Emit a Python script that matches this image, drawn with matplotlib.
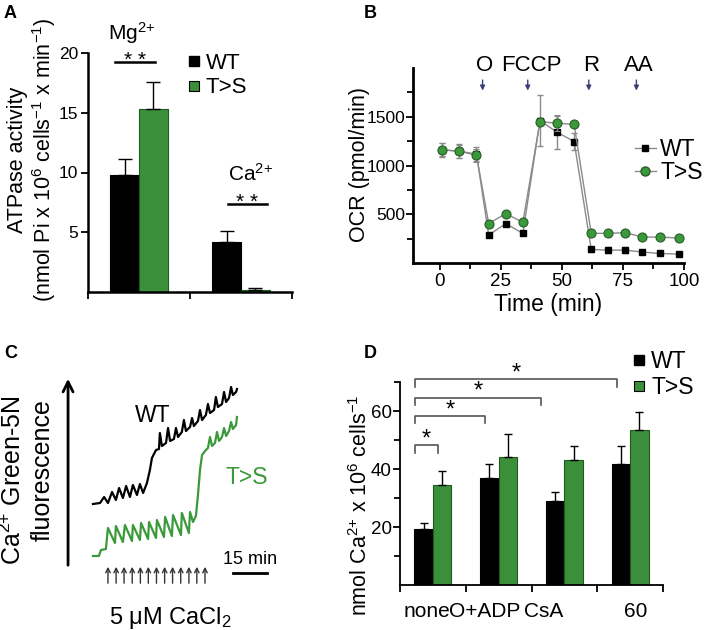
import matplotlib
matplotlib.use('Agg')
import matplotlib.pyplot as plt
from matplotlib.lines import Line2D
import numpy as np

plt.rcParams['font.family'] = ['Liberation Sans', 'DejaVu Sans']
plt.rcParams['mathtext.fontset'] = 'custom'
plt.rcParams['mathtext.rm'] = 'Liberation Sans'
plt.rcParams['mathtext.it'] = 'Liberation Sans:italic'
plt.rcParams['mathtext.bf'] = 'Liberation Sans:bold'

GREEN = '#3b8f3b'
GREEN_EDGE = '#1f5a1f'
TRACE_GREEN = '#3a9a3a'

# ---- panel A data: ATPase activity
atp_groups = ['Mg$^{2{+}}$', 'Ca$^{2{+}}$']
atp_wt = [9.8, 4.2]
atp_wt_err = [1.3, 0.9]
atp_ts = [15.3, 0.2]
atp_ts_err = [2.3, 0.1]

# ---- panel B data: OCR
ocr_time = [1, 8, 15, 20, 27, 34, 41, 48, 55, 62, 69, 76, 83, 90, 98]
ocr_wt = [1160, 1146, 1118, 287, 404, 304, 1460, 1342, 1246, 139, 132, 132, 112, 98, 91]
ocr_wt_err = [70, 70, 70, 20, 20, 20, 265, 170, 90, 25, 30, 30, 20, 15, 15]
ocr_ts = [1163, 1146, 1105, 404, 507, 417, 1448, 1435, 1421, 304, 304, 311, 266, 266, 256]
ocr_ts_err = [70, 65, 65, 20, 20, 20, 30, 80, 30, 20, 20, 20, 20, 20, 20]
inj_labels = ['O', 'FCCP', 'R', 'AA']
inj_time = [17.5, 36, 61, 80.5]

# ---- panel C data: Ca2+ Green-5N traces (time in min, fluorescence a.u.)
wt_t = [0.0, 3.1, 4.9, 6.6, 8.4, 10.1, 11.5, 13.2, 14.6, 16.3, 17.6, 19.4, 20.7, 22.1,
        23.8, 25.1, 26.0, 27.8, 29.1, 29.5, 30.4, 32.2, 33.1, 34.0, 35.7, 36.6, 37.5,
        39.2, 40.1, 41.0, 42.8, 43.7, 44.5, 46.3, 47.2, 48.1, 49.8, 50.7, 51.6, 53.4,
        54.2, 55.1, 56.9, 57.8, 58.7, 60.0, 60.9, 61.7, 63.1, 63.5]
wt_f = [9.6, 9.7, 10.3, 9.7, 10.8, 10.0, 11.2, 10.2, 11.4, 10.3, 11.5, 10.5, 11.6, 10.7,
        11.7, 13.0, 14.2, 15.0, 15.1, 16.7, 15.4, 15.7, 17.2, 15.9, 16.1, 17.2, 16.3,
        16.8, 18.0, 16.9, 17.3, 18.2, 17.4, 17.9, 19.0, 18.0, 18.5, 19.6, 18.7, 19.0,
        20.3, 19.3, 19.6, 20.8, 19.8, 20.2, 21.3, 20.5, 20.8, 21.1]
ts_t = [0.0, 2.6, 3.5, 5.7, 6.6, 9.7, 10.1, 13.2, 14.1, 17.2, 17.6, 20.7, 21.2, 24.3,
        24.7, 27.8, 28.2, 31.3, 31.8, 34.8, 35.3, 38.8, 39.2, 42.3, 42.8, 44.1, 45.4,
        46.3, 47.2, 48.1, 49.4, 50.7, 51.6, 52.5, 53.8, 54.7, 55.6, 56.9, 57.8, 58.7,
        60.0, 60.9, 61.7, 63.1, 63.5]
ts_f = [4.4, 4.4, 5.0, 5.1, 7.2, 5.7, 7.4, 5.8, 7.5, 5.9, 7.5, 6.0, 7.7, 6.1,
        7.8, 6.2, 8.0, 6.3, 8.3, 6.4, 8.5, 6.5, 8.7, 6.7, 8.8, 7.8, 8.4,
        10.5, 13.0, 14.5, 14.9, 15.2, 16.3, 15.4, 15.7, 16.8, 15.9, 16.3, 17.2, 16.4,
        16.9, 17.8, 17.1, 17.5, 18.3]
cacl2_additions = [6.6, 10.2, 13.7, 17.3, 20.9, 24.4, 28.0, 31.6, 35.1, 38.7, 42.3, 45.8, 49.4]

# ---- panel D data: Ca2+ retention capacity
crc_groups = ['none', 'O+ADP', 'CsA', '60']
crc_label_pos = [0.41, 1.29, 2.18, 3.59]
crc_wt = [19.2, 36.9, 29.0, 41.6]
crc_wt_err = [2.1, 4.9, 2.9, 6.2]
crc_ts = [34.5, 44.1, 43.2, 53.6]
crc_ts_err = [4.7, 7.9, 4.7, 5.9]
brackets = [(0.23, 0.58, 48.2), (0.23, 1.30, 58.3), (0.23, 2.15, 64.6), (0.23, 3.30, 71.0)]

W, H = 709, 630
fig = plt.figure(figsize=(W / 100, H / 100), dpi=100)


def px_axes(x0, y0, x1, y1):
    return fig.add_axes([x0 / W, 1 - y1 / H, (x1 - x0) / W, (y1 - y0) / H])


def ftext(x, y, s, **kw):
    fig.text(x / W, 1 - y / H, s, **kw)


def style_axes(ax, lw=1.8):
    for side in ['top', 'right']:
        ax.spines[side].set_visible(False)
    for side in ['left', 'bottom']:
        ax.spines[side].set_linewidth(lw)
    ax.tick_params(which='both', direction='out', width=1.3, pad=2)
    ax.tick_params(which='major', length=5)
    ax.tick_params(which='minor', length=4)


# panel labels
for lab, x, y in [('A', 4, 14), ('B', 364, 14), ('C', 4, 354), ('D', 364, 354)]:
    ftext(x, y, lab, fontsize=13, fontweight='bold', va='center', ha='left')

# ================= A =================
axA = px_axes(88, 53, 292, 292)
style_axes(axA)
xa = np.arange(len(atp_groups)) + 0.5
bw = 0.284
axA.bar(xa - bw / 2, atp_wt, bw, color='black', edgecolor='black', lw=0.8,
        yerr=[np.zeros(2), atp_wt_err], error_kw=dict(ecolor='black', elinewidth=1, capsize=5, capthick=1))
axA.bar(xa + bw / 2, atp_ts, bw, color=GREEN, edgecolor=GREEN_EDGE, lw=0.8,
        yerr=[np.zeros(2), atp_ts_err], error_kw=dict(ecolor='black', elinewidth=1, capsize=5, capthick=1))
axA.set_xlim(0, 2)
axA.set_ylim(0, 20)
axA.set_xticks([0, 1, 2])
axA.set_xticklabels([])
axA.set_yticks([5, 10, 15, 20])
axA.tick_params(axis='y', labelsize=12.5)
# significance
axA.text(0.43, 20.6, atp_groups[0], ha='center', va='bottom', fontsize=15)
axA.plot([0.265, 0.657], [19.25, 19.25], color='black', lw=1.8, clip_on=False)
axA.text(0.46, 18.95, '* *', ha='center', va='baseline', fontsize=15, clip_on=False)
axA.text(1.59, 9.0, atp_groups[1], ha='center', va='bottom', fontsize=15)
axA.plot([1.37, 1.75], [7.36, 7.36], color='black', lw=1.8)
axA.text(1.56, 7.06, '* *', ha='center', va='baseline', fontsize=15)
ftext(18, 160, 'ATPase activity', rotation=90, ha='center', va='center', fontsize=15.5)
ftext(44, 160, '(nmol Pi x 10$^6$ cells$^{-1}$ x min$^{-1}$)', rotation=90, ha='center',
      va='center', fontsize=15.5)
hA = [Line2D([], [], ls='', marker='s', ms=7, mfc='black', mec='black'),
      Line2D([], [], ls='', marker='s', ms=7, mfc=GREEN, mec='black', mew=0.8)]
fig.legend(hA, ['WT', 'T>S'], loc='upper left', bbox_to_anchor=(188 / W, 1 - 53 / H),
           frameon=False, fontsize=16, handlelength=0.5, handletextpad=0.3,
           labelspacing=0.15, borderpad=0, borderaxespad=0)

# ================= B =================
axB = px_axes(413, 68, 684, 263)
style_axes(axB, lw=2)
axB.errorbar(ocr_time, ocr_wt, yerr=ocr_wt_err, color='#8a8a8a', lw=1, ecolor='#8a8a8a',
             elinewidth=1, capsize=2.5, marker='s', ms=4.5, mfc='black', mec='black', zorder=3,
             label='WT')
axB.errorbar(ocr_time, ocr_ts, yerr=ocr_ts_err, color='#8a8a8a', lw=1, ecolor='#8a8a8a',
             elinewidth=1, capsize=2.5, marker='o', ms=6.5, mfc=TRACE_GREEN, mec='#2a5a2a',
             mew=0.8, zorder=4, label='T>S')
axB.set_xlim(-11, 100)
axB.set_ylim(0, 2000)
axB.set_xticks([0, 25, 50, 75, 100])
axB.set_xticks(np.arange(0, 101, 12.5), minor=True)
axB.set_yticks([500, 1000, 1500])
axB.set_yticks([250, 750, 1250, 1750], minor=True)
axB.tick_params(axis='x', labelsize=13.5)
axB.tick_params(axis='y', labelsize=12.5, pad=0.5)
axB.set_xlabel('Time (min)', fontsize=16.5, labelpad=2)
ftext(359, 165, 'OCR (pmol/min)', rotation=90, ha='center', va='center', fontsize=15.5)
for lab, t in zip(inj_labels, inj_time):
    axB.annotate('', xy=(t, 1740), xytext=(t, 1905),
                 arrowprops=dict(arrowstyle='-|>', color='#3c3c78', lw=1, mutation_scale=7),
                 annotation_clip=False)
    axB.text(t + (1.5 if lab == 'FCCP' else 1.0), 1915, lab, ha='center', va='bottom',
             fontsize=16, clip_on=False)
hB = [Line2D([], [], color='#8a8a8a', lw=1, marker='s', ms=4.5, mfc='black', mec='black'),
      Line2D([], [], color='#8a8a8a', lw=1, marker='o', ms=6.5, mfc=TRACE_GREEN, mec='#2a5a2a')]
fig.legend(hB, ['WT', 'T>S'], loc='upper left', bbox_to_anchor=(635 / W, 1 - 138 / H),
           frameon=False, fontsize=16.5, handlelength=0.9, handletextpad=0.2,
           labelspacing=0.0, borderpad=0, borderaxespad=0)

# ================= C =================
axC = px_axes(60, 360, 300, 630)
axC.set_xlim(-14.55, 91.3)
axC.set_ylim(-3, 24)
axC.axis('off')
axC.plot(wt_t, wt_f, color='black', lw=1.6)
axC.plot(ts_t, ts_f, color=TRACE_GREEN, lw=1.6)
axC.text(26.5, 18.5, 'WT', ha='center', va='center', fontsize=16.5, color='black')
axC.text(68, 12.3, 'T>S', ha='center', va='center', fontsize=16.5, color=TRACE_GREEN)
axC.annotate('', xy=(-11, 22.4), xytext=(-11, 3.2),
             arrowprops=dict(arrowstyle='->', lw=2, color='black', mutation_scale=18))
for t in cacl2_additions:
    axC.annotate('', xy=(t, 3.6), xytext=(t, 1.4),
                 arrowprops=dict(arrowstyle='->', lw=1, color='#333333', mutation_scale=8))
axC.plot([61.7, 76.7], [2.7, 2.7], color='black', lw=2)
axC.text(69.2, 3.2, '15 min', ha='center', va='bottom', fontsize=13)
axC.text(34, -1.8, '5 μM CaCl$_2$', ha='center', va='center', fontsize=17)
ftext(13, 480, 'Ca$^{2{+}}$ Green-5N', rotation=90, ha='center', va='center', fontsize=18)
ftext(43, 470, 'fluorescence', rotation=90, ha='center', va='center', fontsize=18)

# ================= D =================
axD = px_axes(400, 382, 663, 585)
style_axes(axD, lw=1.3)
xd = np.arange(len(crc_groups)) + 0.5
bd = 0.28
axD.bar(xd - bd / 2, crc_wt, bd, color='black', edgecolor='black', lw=0.8,
        yerr=[np.zeros(4), crc_wt_err], error_kw=dict(ecolor='black', elinewidth=1, capsize=3, capthick=1))
axD.bar(xd + bd / 2, crc_ts, bd, color=GREEN, edgecolor=GREEN_EDGE, lw=0.8,
        yerr=[np.zeros(4), crc_ts_err], error_kw=dict(ecolor='black', elinewidth=1, capsize=3, capthick=1))
axD.set_xlim(0, 4)
axD.set_ylim(0, 70)
axD.set_xticks([0, 1, 2, 3, 4])
axD.set_xticklabels([])
axD.set_xticks(crc_label_pos, crc_groups, minor=True)
axD.tick_params(axis='x', which='minor', length=0, labelsize=15, pad=12)
axD.set_yticks([20, 40, 60])
axD.set_yticks([10, 30, 50, 70], minor=True)
axD.tick_params(axis='y', labelsize=13.5, pad=1)
for x0, x1, y in brackets:
    axD.plot([x0, x0, x1, x1], [y - 2.6, y, y, y - 2.6], color='#555555', lw=1.2, clip_on=False)
    axD.text((x0 + x1) / 2, y - 1.8, '*', ha='center', va='bottom', fontsize=17, clip_on=False)
ftext(361, 505, 'nmol Ca$^{2{+}}$ x 10$^6$ cells$^{-1}$', rotation=90, ha='center', va='center',
      fontsize=15.5)
hD = [Line2D([], [], ls='', marker='s', ms=7, mfc='black', mec='black'),
      Line2D([], [], ls='', marker='s', ms=7, mfc=GREEN, mec='black', mew=0.8)]
fig.legend(hD, ['WT', 'T>S'], loc='upper left', bbox_to_anchor=(633 / W, 1 - 350 / H),
           frameon=False, fontsize=16.5, handlelength=0.5, handletextpad=0.3,
           labelspacing=0.15, borderpad=0, borderaxespad=0)

fig.savefig('out.png', dpi=100)
